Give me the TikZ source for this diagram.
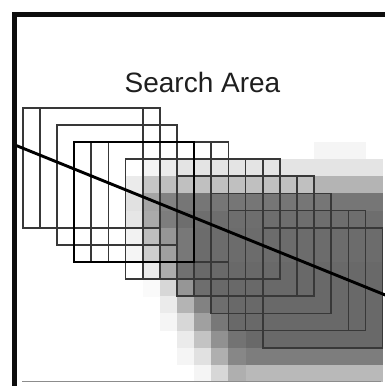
\documentclass[tikz,border=0pt]{standalone}
\usepackage{fontspec}
\setmainfont{Liberation Sans}
\begin{document}
\begin{tikzpicture}[x=1pt,y=-1pt,
  sq/.style={draw=black!78,line width=1.7pt},
  sqbold/.style={draw=black,line width=2.7pt},
  frame/.style={draw=black!95,line width=5pt},
  diag/.style={draw=black,line width=2.9pt},
  title/.style={font=\fontsize{28}{30}\selectfont,text=black!88,inner sep=0pt,anchor=base}]
\useasboundingbox (0,0) rectangle (384,386);
\fill[white] (0,0) rectangle (384,386);
\def\xo{22.7}\def\yo{107.7}\def\cs{17.14}
% shading
\foreach \j/\vals in {
  2/{17/19/245},
  3/{7/7/245,8/8/235,9/20/228},
  4/{6/6/235,7/7/198,8/8/190,9/16/192,17/20/180},
  5/{6/6/225,7/7/165,8/8/130,9/20/118},
  6/{6/6/230,7/7/170,8/8/125,9/20/110},
  7/{6/6/242,7/7/190,8/8/150,9/9/120,10/20/108},
  8/{6/6/245,7/7/205,8/8/160,9/9/120,10/20/108},
  9/{7/7/235,8/8/172,9/9/113,10/20/105},
  10/{7/7/250,8/8/215,9/9/150,10/10/110,11/20/105},
  11/{8/8/235,9/9/180,10/10/130,11/11/110,12/20/105},
  12/{8/8/245,9/9/215,10/10/160,11/11/120,12/20/105},
  13/{9/9/235,10/10/195,11/11/145,12/12/115,13/20/105},
  14/{9/9/245,10/10/225,11/11/175,12/12/135,13/20/125},
  15/{10/10/245,11/11/215,12/12/175,13/20/185}}{
  \foreach \ia/\ib/\v in \vals {
    \pgfmathsetmacro\p{100*(255-\v)/255}
    \pgfmathsetmacro\xa{\xo+\cs*\ia}
    \pgfmathsetmacro\xb{\xo+\cs*(\ib+1)+0.3}
    \pgfmathsetmacro\ya{\yo+\cs*\j}
    \pgfmathsetmacro\yb{\yo+\cs*(\j+1)+0.3}
    \fill[black!\p] (\xa,\ya) rectangle (\xb,\yb);
  }
}
% squares
\foreach \i/\j in {0/0,1/0,2/1,4/2,5/2,6/3,7/3,8/3,9/4,10/4,11/5,12/6,13/6,14/7}{
  \pgfmathsetmacro\xa{\xo+\cs*\i}
  \pgfmathsetmacro\ya{\yo+\cs*\j}
  \draw[sq] (\xa,\ya) rectangle ++(7*\cs,7*\cs);
}
\pgfmathsetmacro\xa{\xo+\cs*3}
\pgfmathsetmacro\ya{\yo+\cs*2}
\draw[sqbold] (\xa,\ya) rectangle ++(7*\cs,7*\cs);
% diagonal line
\coordinate (l1) at (16.7,145.7);
\coordinate (l2) at (386,295.3);
\draw[diag] (l1) -- (l2);
% frame
\draw[draw=black!45,line width=1.4pt] (22,381.6) -- (381,381.6);
\draw[frame] (14.8,386) -- (14.8,14.8) -- (386,14.8);
% title
\node[title] (title) at (202.5,92.7) {Search Area};
\end{tikzpicture}
\end{document}
